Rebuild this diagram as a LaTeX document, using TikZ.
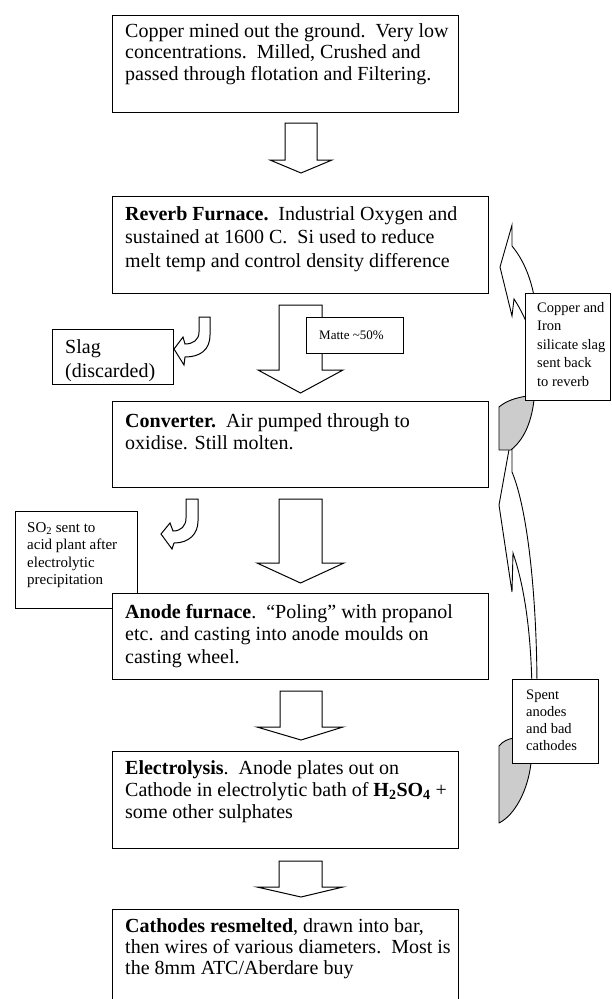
\documentclass[tikz,border=0pt]{standalone}
\usepackage{fontspec}
\setmainfont{Liberation Serif}
\newcommand{\mylines}[1]{\begin{tabular}[t]{@{}l@{}}#1\end{tabular}}
\begin{document}
\begin{tikzpicture}[x=1pt,y=-1pt,
  box/.style={draw,line width=1.1pt,fill=white,inner sep=0pt,anchor=north west},
  blk/.style={draw,line width=1pt,fill=white,line join=miter},
  greyback/.style={draw,line width=0.9pt,fill=black!20,line join=round},
  maintext/.style={anchor=base west,inner sep=0pt,font=\fontsize{20}{22.5}\selectfont},
  smalltext/.style={anchor=base west,inner sep=0pt,font=\fontsize{14.5}{18.5}\selectfont},
]
\clip (0,0) rectangle (611,999);

% ---- right-hand curved return arrows ----
\draw[blk,line width=0.9pt] (512,433) -- (499,505) -- (512,592) -- (513,553)
  .. controls (524,585) and (531,630) .. (532,690) -- (537,690)
  .. controls (537,600) and (528,510) .. (512,472) -- cycle;
\draw[blk,line width=0.9pt] (512,225) -- (500,267) -- (512,316) -- (514,299)
  .. controls (518,305) and (522,312) .. (530,330) -- (545,330) -- (534,296)
  .. controls (530,275) and (522,258) .. (512,246) -- cycle;
\draw[greyback] (499,450) -- (499,407) .. controls (506,401) and (515,398) .. (527,396)
  -- (540,396) -- (534,400) .. controls (531,425) and (523,440) .. (511,450) -- cycle;
\draw[greyback] (499,823) -- (499,746) .. controls (503,741) and (508,739) .. (514,738)
  -- (540,738) -- (531,763) .. controls (528,790) and (515,815) .. (499,823) -- cycle;

\node[box,minimum width=85pt,minimum height=107pt] (cu) at (525,293) {};
\node[smalltext] (cut) at (537,312) {\mylines{Copper and\\Iron\\silicate slag\\sent back\\to reverb}};
\node[box,minimum width=86pt,minimum height=84pt] (sp) at (512,679) {};
\node[smalltext,font=\fontsize{14.5}{17.3}\selectfont] (spt) at (526,699) {\mylines{Spent\\anodes\\and bad\\cathodes}};

% ---- main boxes ----
\node[box,minimum width=346pt,minimum height=97pt] (b1) at (112,15) {};
\node[maintext,font=\fontsize{20}{21.5}\selectfont] (t1) at (125,37) {\mylines{Copper mined out the ground.\ \ Very low\\concentrations.\ \ Milled, Crushed and\\passed through flotation and Filtering.}};

\draw[blk] (285,123) -- (317,123) -- (317,160) -- (332,160) -- (301,173) -- (270,160) -- (285,160) -- cycle;

\node[box,minimum width=376pt,minimum height=97pt] (b2) at (112,196) {};
\node[maintext,font=\fontsize{20}{23.5}\selectfont] (t2) at (125,220) {\mylines{\textbf{Reverb Furnace.}\ \ Industrial Oxygen and\\sustained at 1600 C.\ \ Si used to reduce\\melt temp and control density difference}};

\draw[blk] (279,305) -- (322,305) -- (322,370) -- (343,370) -- (300.5,393) -- (258,370) -- (279,370) -- cycle;
\node[box,minimum width=97pt,minimum height=36pt] (mt) at (306,317) {};
\node[smalltext,font=\fontsize{13}{15}\selectfont] (mtt) at (319,339) {\mylines{Matte \textasciitilde50\%}};

\node[box,minimum width=121pt,minimum height=55pt] (sl) at (52,329) {};
\node[maintext,font=\fontsize{20}{24}\selectfont] (slt) at (65,353) {\mylines{Slag\\(discarded)}};
\draw[blk] (199,317) -- (210,317) -- (210,335) .. controls (210,350) and (200,357) .. (185,357)
  -- (184,365) -- (174,349) -- (183,337) -- (185,344) .. controls (193,344) and (199,340) .. (199,332) -- cycle;

\node[box,minimum width=376pt,minimum height=86pt] (b3) at (112,401) {};
\node[maintext] (t3) at (125,427) {\mylines{\textbf{Converter.}\ \ Air pumped through to\\oxidise. Still molten.}};

\draw[blk] (279,499) -- (322,499) -- (322,563) -- (344,563) -- (300.5,583) -- (257,563) -- (279,563) -- cycle;
\draw[blk] (186,499) -- (198,499) -- (198,521) .. controls (198,534) and (189,543) .. (174,543)
  -- (172,549) -- (161,534) -- (170,523) -- (173,531) .. controls (181,531) and (186,526) .. (186,518) -- cycle;

\node[box,minimum width=122pt,minimum height=97pt] (so) at (15,511) {};
\node[smalltext,font=\fontsize{15}{17.5}\selectfont] (sot) at (27,532) {\mylines{SO\textsubscript{2} sent to\\acid plant after\\electrolytic\\precipitation}};

\node[box,minimum width=376pt,minimum height=86pt] (b4) at (112,593) {};
\node[maintext] (t4) at (125,618) {\mylines{\textbf{Anode furnace}.\ \ “Poling” with propanol\\etc. and casting into anode moulds on\\casting wheel.}};

\draw[blk] (280,691) -- (322,691) -- (322,727) -- (343,727) -- (301,740) -- (257,727) -- (280,727) -- cycle;

\node[box,minimum width=346pt,minimum height=97pt] (b5) at (112,751) {};
\node[maintext,font=\fontsize{20}{22}\selectfont] (t5) at (125,774) {\mylines{\textbf{Electrolysis}.\ \ Anode plates out on\\Cathode in electrolytic bath of \textbf{H\textsubscript{2}SO\textsubscript{4}} +\\some other sulphates}};

\draw[blk] (279,861) -- (322,861) -- (322,887) -- (343,887) -- (301,897) -- (257,887) -- (279,887) -- cycle;

\node[box,minimum width=346pt,minimum height=110pt] (b6) at (112,909) {};
\node[maintext,font=\fontsize{20}{21}\selectfont] (t6) at (125,932) {\mylines{\textbf{Cathodes resmelted}, drawn into bar,\\then wires of various diameters.\ \ Most is\\the 8mm ATC/Aberdare buy}};
\end{tikzpicture}
\end{document}
